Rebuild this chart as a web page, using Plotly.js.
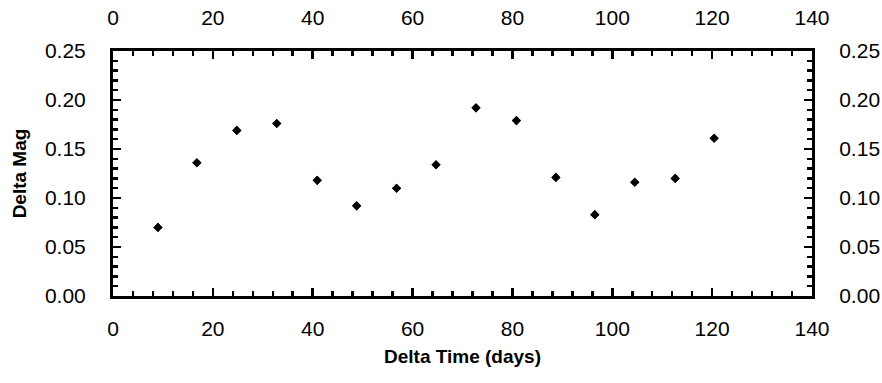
<!DOCTYPE html>
<html>
<head>
<meta charset="utf-8">
<script src="https://cdn.plot.ly/plotly-3.0.1.min.js"></script>
<style>html,body{margin:0;padding:0;background:#fff;} #chart{width:882px;height:383px;}</style>
</head>
<body>
<div id="chart"></div>
<script>
// Data
const deltaTime = [9.0, 16.8, 24.8, 32.8, 40.9, 48.8, 56.8, 64.7, 72.7, 80.8, 88.7, 96.5, 104.5, 112.6, 120.4];
const deltaMag  = [0.070, 0.136, 0.169, 0.176, 0.118, 0.092, 0.110, 0.134, 0.192, 0.179, 0.121, 0.083, 0.116, 0.120, 0.161];
const xTitle = "Delta Time (days)";
const yTitle = "Delta Mag";
const xRange = [0, 140];
const yRange = [0, 0.25];

const fontFam = "Liberation Sans, Arial, sans-serif";
const tickFont = {family: fontFam, size: 21, color: "#000"};

const markerStyle = {symbol: "diamond", size: 7, color: "#000"};

const data = [
  {x: deltaTime, y: deltaMag, type: "scatter", mode: "markers", marker: markerStyle, xaxis: "x", yaxis: "y", hoverinfo: "x+y"},
  {x: deltaTime, y: deltaMag, type: "scatter", mode: "markers", marker: markerStyle, xaxis: "x2", yaxis: "y2", hoverinfo: "skip"}
];

const baseX = {
  range: xRange, dtick: 20, tick0: 0, ticks: "inside", ticklen: 8, tickwidth: 2.5, tickcolor: "#000",
  minor: {ticks: "inside", dtick: 4, ticklen: 5, tickwidth: 2.5, tickcolor: "#000", showgrid: false},
  showline: true, linewidth: 3, linecolor: "#000", showgrid: false, zeroline: false,
  tickfont: tickFont, fixedrange: true
};
const baseY = {
  range: yRange, dtick: 0.05, tick0: 0, tickformat: ".2f", ticks: "inside", ticklen: 8, tickwidth: 2.5, tickcolor: "#000",
  minor: {ticks: "inside", dtick: 0.01, ticklen: 5, tickwidth: 2.5, tickcolor: "#000", showgrid: false},
  showline: true, linewidth: 3, linecolor: "#000", showgrid: false, zeroline: false,
  tickfont: tickFont, ticklabelstandoff: 20, fixedrange: true
};

const layout = {
  width: 882, height: 383,
  margin: {l: 113, r: 70, t: 51, b: 87},
  paper_bgcolor: "#fff", plot_bgcolor: "#fff",
  showlegend: false,
  xaxis: Object.assign({}, baseX, {side: "bottom", ticklabelstandoff: 12,
    title: {text: "<b>" + xTitle + "</b>", font: {family: fontFam, size: 19, color: "#000"}, standoff: 11}}),
  xaxis2: Object.assign({}, baseX, {side: "top", overlaying: "x", anchor: "y2", ticklabelstandoff: 15}),
  yaxis: Object.assign({}, baseY, {side: "left",
    title: {text: "<b>" + yTitle + "</b>", font: {family: fontFam, size: 19, color: "#000"}, standoff: 14}}),
  yaxis2: Object.assign({}, baseY, {side: "right", overlaying: "y", anchor: "x2"})
};

Plotly.newPlot("chart", data, layout, {displayModeBar: false, staticPlot: true});
</script>
</body>
</html>
